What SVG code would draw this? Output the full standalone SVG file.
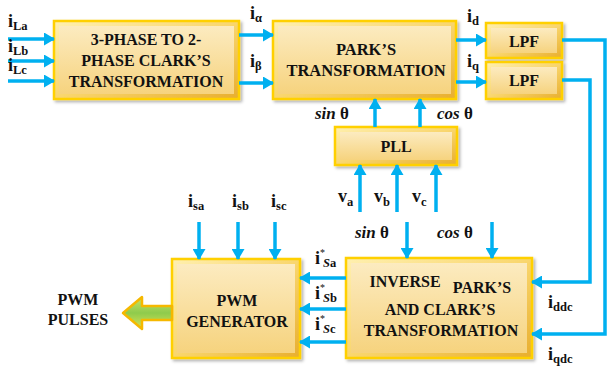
<svg xmlns="http://www.w3.org/2000/svg" width="607" height="368" viewBox="0 0 607 368">
<defs>
<linearGradient id="face" x1="0" y1="0" x2="0" y2="1">
<stop offset="0" stop-color="#FCEBC0"/>
<stop offset="1" stop-color="#F6D37E"/>
</linearGradient>
<linearGradient id="frame" x1="0" y1="0" x2="1" y2="1">
<stop offset="0" stop-color="#FFF0B0"/>
<stop offset="0.5" stop-color="#F9D66E"/>
<stop offset="1" stop-color="#E8AE2E"/>
</linearGradient>
<linearGradient id="fat" x1="0" y1="0" x2="0" y2="1">
<stop offset="0" stop-color="#C9E36A"/>
<stop offset="0.5" stop-color="#8FCB4C"/>
<stop offset="1" stop-color="#D9E255"/>
</linearGradient>
<filter id="sh" x="-10%" y="-10%" width="130%" height="130%">
<feDropShadow dx="2" dy="2" stdDeviation="1.5" flood-color="#000" flood-opacity="0.3"/>
</filter>
<marker id="ah" markerUnits="userSpaceOnUse" markerWidth="11" markerHeight="13" refX="10" refY="6.5" orient="auto">
<path d="M0,0 L11,6.5 L0,13 z" fill="#00B0F0"/>
</marker>
<style>
.box{fill:url(#frame);stroke:#FFD000;stroke-width:2.5}
.in{fill:url(#face);stroke:none}
.t{font-family:'Liberation Serif','Times New Roman',serif;font-weight:bold;font-size:16px;fill:#111;text-anchor:middle}
.w{fill:none;stroke:#00B0F0;stroke-width:3.5;marker-end:url(#ah)}
.l{font-family:'Liberation Serif','Times New Roman',serif;font-weight:bold;font-size:18px;fill:#111}
.s{font-size:12.5px}
.m{font-family:'Liberation Serif','Times New Roman',serif;font-weight:bold;font-style:italic;font-size:17px;fill:#111}
.th{font-style:normal}
</style>
</defs>

<g id="clark">
<rect class="box" x="54" y="21" width="185" height="78" filter="url(#sh)"/>
<rect class="in" x="59" y="26" width="175" height="68"/>
<text class="t" x="146" y="45">3-PHASE TO 2-</text>
<text class="t" x="146" y="66">PHASE CLARK’S</text>
<text class="t" x="146" y="87">TRANSFORMATION</text>
</g>

<g id="park">
<rect class="box" x="273" y="21" width="183" height="78" filter="url(#sh)"/>
<rect class="in" x="278" y="26" width="173" height="68"/>
<text class="t" x="366" y="55" style="font-size:16.5px">PARK’S</text>
<text class="t" x="366" y="76" style="font-size:16.5px">TRANSFORMATION</text>
</g>

<g id="lpf1">
<rect class="box" x="486" y="23" width="76" height="35" filter="url(#sh)"/>
<rect class="in" x="491" y="28" width="66" height="25"/>
<text class="t" x="524" y="47">LPF</text>
</g>

<g id="lpf2">
<rect class="box" x="486" y="62" width="76" height="37" filter="url(#sh)"/>
<rect class="in" x="491" y="67" width="66" height="27"/>
<text class="t" x="524" y="86">LPF</text>
</g>

<g id="pll">
<rect class="box" x="335" y="127" width="122" height="38" filter="url(#sh)"/>
<rect class="in" x="340" y="132" width="112" height="28"/>
<text class="t" x="396" y="152">PLL</text>
</g>

<g id="inverse">
<rect class="box" x="346" y="258" width="186" height="100" filter="url(#sh)"/>
<rect class="in" x="351" y="263" width="176" height="90"/>
<text class="t" x="405" y="287">INVERSE</text>
<text class="t" x="482" y="293">PARK’S</text>
<text class="t" x="440" y="315">AND CLARK’S</text>
<text class="t" x="441" y="336">TRANSFORMATION</text>
</g>

<g id="pwm">
<rect class="box" x="172" y="259" width="128" height="99" filter="url(#sh)"/>
<rect class="in" x="177" y="264" width="118" height="89"/>
<text class="t" x="237" y="306">PWM</text>
<text class="t" x="237" y="327">GENERATOR</text>
</g>

<g id="pulses">
<path d="M123,313 L142,297 L142,306 L172,306 L172,320 L142,320 L142,329 Z" fill="url(#fat)" stroke="#F5B800" stroke-width="2.5" stroke-linejoin="round"/>
<text class="t" x="78" y="305">PWM</text>
<text class="t" x="78" y="325">PULSES</text>
</g>

<g id="connectors">
<path class="w" d="M8,39 H54"/>
<path class="w" d="M8,61 H54"/>
<path class="w" d="M8,81 H54"/>
<path class="w" d="M239,35 H273"/>
<path class="w" d="M239,83 H273"/>
<path class="w" d="M456,40 H486"/>
<path class="w" d="M456,82 H486"/>
<path class="w" d="M562,40 H605 V334 H532"/>
<path class="w" d="M562,80 H590 V282 H532"/>
<path class="w" d="M375,127 V99"/>
<path class="w" d="M420,127 V99"/>
<path class="w" d="M360,212 V165"/>
<path class="w" d="M397,212 V165"/>
<path class="w" d="M436,212 V165"/>
<path class="w" d="M407,222 V258"/>
<path class="w" d="M492,222 V258"/>
<path class="w" d="M346,278 H300"/>
<path class="w" d="M346,309 H300"/>
<path class="w" d="M346,342 H300"/>
<path class="w" d="M199,222 V259"/>
<path class="w" d="M238,222 V259"/>
<path class="w" d="M275,222 V259"/>
</g>

<g id="labels">
<text class="l" x="8" y="27">i<tspan class="s" dy="3">La</tspan></text>
<text class="l" x="8" y="52">i<tspan class="s" dy="3">Lb</tspan></text>
<text class="l" x="8" y="71">i<tspan class="s" dy="3">Lc</tspan></text>
<text class="l" x="250" y="19">i<tspan class="s" dy="3">α</tspan></text>
<text class="l" x="250" y="67">i<tspan class="s" dy="3">β</tspan></text>
<text class="l" x="467" y="22">i<tspan class="s" dy="3">d</tspan></text>
<text class="l" x="467" y="67">i<tspan class="s" dy="3">q</tspan></text>
<text class="m" x="315" y="119">sin <tspan class="th">θ</tspan></text>
<text class="m" x="437" y="119">cos <tspan class="th">θ</tspan></text>
<text class="l" x="338" y="202">v<tspan class="s" dy="4">a</tspan></text>
<text class="l" x="374" y="202">v<tspan class="s" dy="4">b</tspan></text>
<text class="l" x="412" y="202">v<tspan class="s" dy="4">c</tspan></text>
<text class="m" x="355" y="238">sin <tspan class="th">θ</tspan></text>
<text class="m" x="437" y="238">cos <tspan class="th">θ</tspan></text>
<text class="l" x="188" y="207">i<tspan class="s" dy="3">sa</tspan></text>
<text class="l" x="232" y="207">i<tspan class="s" dy="3">sb</tspan></text>
<text class="l" x="271" y="207">i<tspan class="s" dy="3">sc</tspan></text>
<text class="l" x="315" y="264">i<tspan class="s" dy="-8" style="font-weight:normal;font-size:10px">*</tspan><tspan class="s" dx="-2" dy="11" style="font-style:italic">S</tspan><tspan class="s">a</tspan></text>
<text class="l" x="315" y="299">i<tspan class="s" dy="-8" style="font-weight:normal;font-size:10px">*</tspan><tspan class="s" dx="-2" dy="11" style="font-style:italic">S</tspan><tspan class="s">b</tspan></text>
<text class="l" x="315" y="330">i<tspan class="s" dy="-8" style="font-weight:normal;font-size:10px">*</tspan><tspan class="s" dx="-2" dy="11" style="font-style:italic">S</tspan><tspan class="s">c</tspan></text>
<text class="l" x="548" y="308">i<tspan class="s" dy="3">ddc</tspan></text>
<text class="l" x="548" y="360">i<tspan class="s" dy="3">qdc</tspan></text>
</g>
</svg>
